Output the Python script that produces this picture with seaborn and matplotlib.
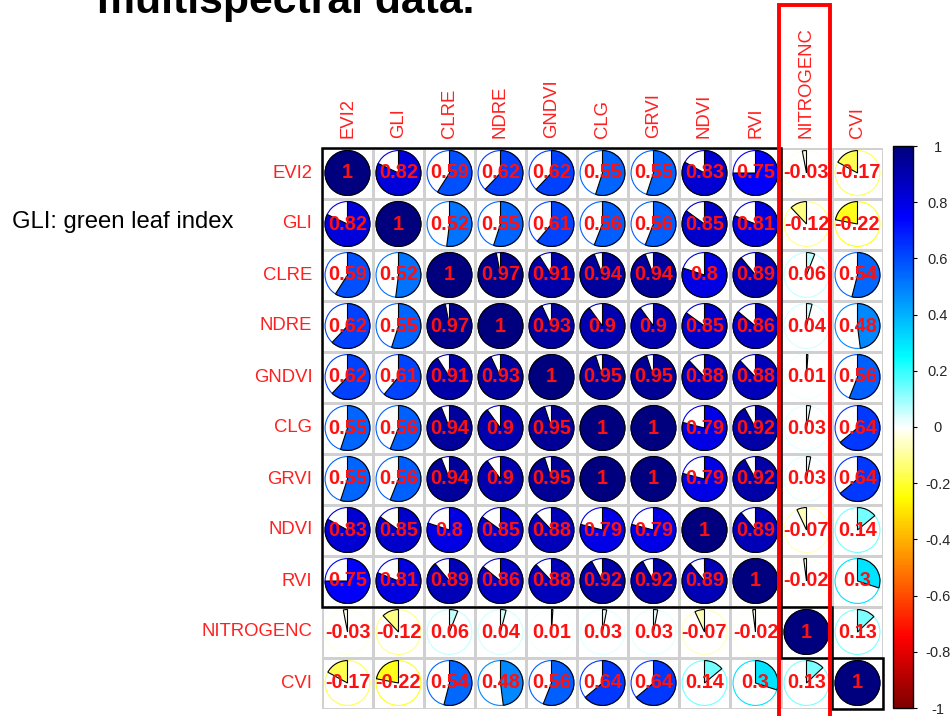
import numpy as np
import pandas as pd
import matplotlib
matplotlib.use("Agg")
import matplotlib.pyplot as plt
import seaborn as sns
from matplotlib.colors import LinearSegmentedColormap, ListedColormap, Normalize
from matplotlib.patches import Wedge, Circle, Rectangle
from matplotlib.transforms import blended_transform_factory
from matplotlib.cm import ScalarMappable

# Variables (rows and columns of the correlation matrix)
variables = ["EVI2", "GLI", "CLRE", "NDRE", "GNDVI", "CLG", "GRVI",
             "NDVI", "RVI", "NITROGENC", "CVI"]

# Correlation coefficients, one list per row
r_evi2 = [1, 0.82, 0.59, 0.62, 0.62, 0.55, 0.55, 0.83, 0.75, -0.03, -0.17]
r_gli = [0.82, 1, 0.52, 0.55, 0.61, 0.56, 0.56, 0.85, 0.81, -0.12, -0.22]
r_clre = [0.59, 0.52, 1, 0.97, 0.91, 0.94, 0.94, 0.8, 0.89, 0.06, 0.54]
r_ndre = [0.62, 0.55, 0.97, 1, 0.93, 0.9, 0.9, 0.85, 0.86, 0.04, 0.48]
r_gndvi = [0.62, 0.61, 0.91, 0.93, 1, 0.95, 0.95, 0.88, 0.88, 0.01, 0.56]
r_clg = [0.55, 0.56, 0.94, 0.9, 0.95, 1, 1, 0.79, 0.92, 0.03, 0.64]
r_grvi = [0.55, 0.56, 0.94, 0.9, 0.95, 1, 1, 0.79, 0.92, 0.03, 0.64]
r_ndvi = [0.83, 0.85, 0.8, 0.85, 0.88, 0.79, 0.79, 1, 0.89, -0.07, 0.14]
r_rvi = [0.75, 0.81, 0.89, 0.86, 0.88, 0.92, 0.92, 0.89, 1, -0.02, 0.3]
r_nitrogenc = [-0.03, -0.12, 0.06, 0.04, 0.01, 0.03, 0.03, -0.07, -0.02, 1, 0.13]
r_cvi = [-0.17, -0.22, 0.54, 0.48, 0.56, 0.64, 0.64, 0.14, 0.3, 0.13, 1]

# Cluster blocks (start index, size) outlined in black
blocks = [(0, 9), (9, 1), (10, 1)]
highlight_col = "NITROGENC"

colorbar_ticks = [1, 0.8, 0.6, 0.4, 0.2, 0, -0.2, -0.4, -0.6, -0.8, -1]

corr = pd.DataFrame([r_evi2, r_gli, r_clre, r_ndre, r_gndvi, r_clg, r_grvi,
                     r_ndvi, r_rvi, r_nitrogenc, r_cvi],
                    index=variables, columns=variables)
labels = corr.map(lambda v: f"{v:g}")

sns.set_theme(style="white")
plt.rcParams["font.family"] = ["Liberation Sans", "DejaVu Sans"]

cmap = LinearSegmentedColormap.from_list(
    "corr", ["#7F0000", "red", "#FF7F00", "yellow", "white",
             "cyan", "#007FFF", "blue", "#00007F"])
norm = Normalize(-1, 1)

W, H = 953, 716
fig = plt.figure(figsize=(W / 100, H / 100), dpi=100)
fig.patch.set_facecolor("white")

# Grid area in pixels
gx0, gy_top, gsize = 322.0, 147.5, 561.0
ax = fig.add_axes([gx0 / W, 1 - (gy_top + gsize) / H, gsize / W, gsize / H])

sns.heatmap(corr, ax=ax, cmap=ListedColormap(["white"]), cbar=False,
            linewidths=0.8, linecolor="#D0D0D0",
            annot=labels.values, fmt="",
            annot_kws=dict(color="#FF1010", fontweight="bold", fontsize=14.3,
                           zorder=5))

n = len(variables)
radius = 0.44
for i in range(n):
    for j in range(n):
        v = corr.iat[i, j]
        c = cmap(norm(v))
        cx, cy = j + 0.5, i + 0.5
        ax.add_patch(Circle((cx, cy), radius, facecolor="none",
                            edgecolor=c, lw=0.8, zorder=2))
        if v >= 0:
            t1, t2 = -90, -90 + 360 * v
        else:
            t1, t2 = -90 + 360 * v, -90
        ax.add_patch(Wedge((cx, cy), radius, t1, t2, facecolor=c,
                           edgecolor="black", lw=0.8, zorder=3))

# Cluster rectangles
for start, size in blocks:
    ax.add_patch(Rectangle((start, start), size, size, fill=False,
                           edgecolor="black", lw=1.8, zorder=6, clip_on=False))

# Highlight box around the nitrogen column
k = variables.index(highlight_col)
trans = blended_transform_factory(ax.transData, fig.transFigure)
ax.add_patch(Rectangle((k - 0.03, -0.02), 1.0, 1.02 - 5 / H, fill=False,
                       edgecolor="#FF0000", lw=2.8, zorder=7,
                       transform=trans, clip_on=False))

ax.xaxis.tick_top()
ax.set_xticks(np.arange(n) + 0.5)
ax.set_xticklabels(variables, rotation=90, color="#FF2020", fontsize=13.3)
ax.set_yticks(np.arange(n) + 0.5)
ax.set_yticklabels(variables, rotation=0, color="#FF2020", fontsize=13.3)
ax.tick_params(axis="x", length=0, pad=6.5)
ax.tick_params(axis="y", length=0, pad=7)
ax.set_xlabel("")
ax.set_ylabel("")

# Colour legend
cax = fig.add_axes([893 / W, 1 - 708 / H, 20 / W, (708 - 146) / H])
cb = fig.colorbar(ScalarMappable(norm=norm, cmap=cmap), cax=cax)
cb.outline.set_edgecolor("black")
cb.outline.set_linewidth(1.0)
cb.set_ticks(colorbar_ticks)
cb.set_ticklabels([f"{t:g}" for t in colorbar_ticks])
cax.tick_params(axis="y", length=3, width=0.8, color="black", pad=15,
                labelsize=10.5, right=True, left=False)
for lab in cax.get_yticklabels():
    lab.set_horizontalalignment("center")

fig.text(97 / W, 1 - 13 / H, "multispectral data.", fontsize=30.8,
         fontweight="bold", color="black", va="baseline", ha="left")
fig.text(12 / W, 1 - 222 / H, "GLI: green leaf index", fontsize=17.2,
         color="black", va="center", ha="left")

fig.savefig("out.png", dpi=100, facecolor="white")
